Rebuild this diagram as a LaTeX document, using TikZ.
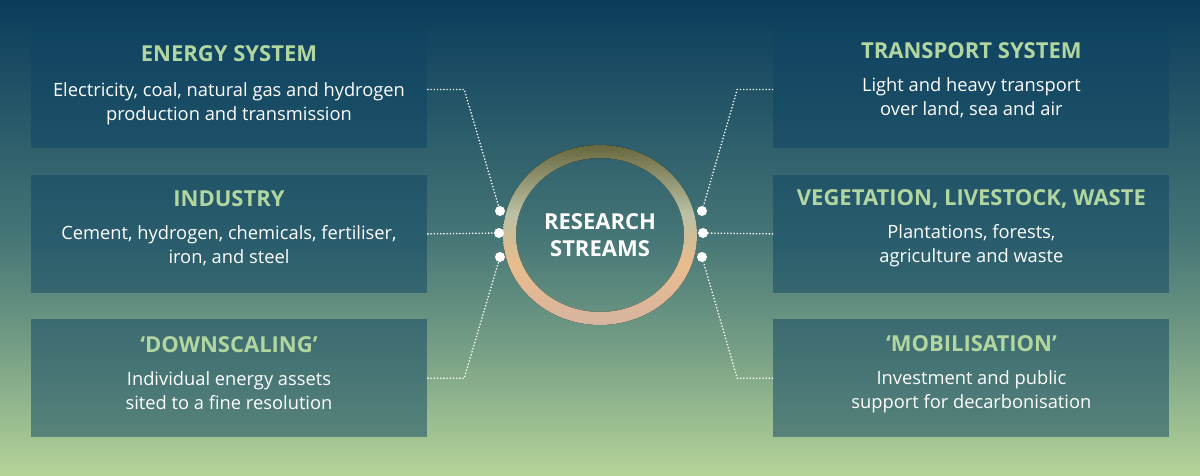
\documentclass[tikz,border=0pt]{standalone}
\usepackage{fontspec}
\setmainfont{Open Sans}
\usetikzlibrary{positioning}

\definecolor{skytop}{RGB}{10,60,92}
\definecolor{skymid}{RGB}{70,118,118}
\definecolor{skylow}{RGB}{120,160,134}
\definecolor{skybot}{RGB}{182,212,152}
\definecolor{boxteal}{RGB}{14,68,99}
\definecolor{headgreen}{RGB}{178,214,160}
\definecolor{ringtan}{RGB}{214,180,160}
\definecolor{ringorange}{RGB}{232,188,140}
\definecolor{ringsage}{RGB}{186,192,164}
\definecolor{ringolive}{RGB}{104,104,62}

\pgfdeclareverticalshading{skyshade}{100bp}{color(0bp)=(skybot); color(25bp)=(skybot);
  color(38bp)=(skylow); color(50bp)=(skymid); color(75bp)=(skytop); color(100bp)=(skytop)}
\pgfdeclareverticalshading{ringshade}{100bp}{color(0bp)=(ringtan); color(25bp)=(ringtan);
  color(42bp)=(ringorange); color(56bp)=(ringsage); color(75bp)=(ringolive); color(100bp)=(ringolive)}

\begin{document}
\begin{tikzpicture}[
  x=1pt, y=-1pt,
  box/.style={fill=boxteal, fill opacity=0.5, inner sep=0pt, minimum width=396pt, minimum height=118pt},
  head/.style={text=headgreen, font=\fontsize{22}{26}\selectfont\bfseries, anchor=base, inner sep=0pt},
  body/.style={text=white, font=\fontsize{18.3}{24}\selectfont, align=center, anchor=base, inner sep=0pt},
  dot/.style={circle, fill=white, inner sep=0pt, minimum size=10pt},
  link/.style={white, line width=1.3pt, dash pattern=on 1.3pt off 1.9pt}
]

% background
\useasboundingbox (0,0) rectangle (1200,476);
\shade[shading=skyshade] (0,0) rectangle (1200,476);

% left column
\node[box] (energy) at (229,89.5) {};
\node[box, below=26pt of energy] (industry) {};
\node[box, below=26pt of industry] (downscale) {};

% right column
\node[box, right=346pt of energy] (transport) {};
\node[box, right=346pt of industry] (vegetation) {};
\node[box, right=346pt of downscale] (mobilise) {};

% headings and text (body base = last line)
\node[head] (energyhead) at ([yshift=-31pt]energy.north) {ENERGY SYSTEM};
\node[body] (energytext) at ([yshift=-90pt]energy.north) {Electricity, coal, natural gas and hydrogen\\production and transmission};
\node[head] (industryhead) at ([yshift=-32pt]industry.north) {INDUSTRY};
\node[body] (industrytext) at ([yshift=-89pt]industry.north) {Cement, hydrogen, chemicals, fertiliser,\\iron, and steel};
\node[head] (downscalehead) at ([yshift=-33pt]downscale.north) {‘DOWNSCALING’};
\node[body] (downscaletext) at ([yshift=-90pt]downscale.north) {Individual energy assets\\sited to a fine resolution};
\node[head] (transporthead) at ([yshift=-28pt]transport.north) {TRANSPORT SYSTEM};
\node[body] (transporttext) at ([yshift=-85pt]transport.north) {Light and heavy transport\\over land, sea and air};
\node[head] (vegetationhead) at ([yshift=-31pt]vegetation.north) {VEGETATION, LIVESTOCK, WASTE};
\node[body] (vegetationtext) at ([yshift=-88pt]vegetation.north) {Plantations, forests,\\agriculture and waste};
\node[head] (mobilisehead) at ([yshift=-32pt]mobilise.north) {‘MOBILISATION’};
\node[body] (mobilisetext) at ([yshift=-89pt]mobilise.north) {Investment and public\\support for decarbonisation};

% centre ring
\fill[shading=ringshade, even odd rule] (600,235) ellipse (97 and 90) (600,235) ellipse (84 and 77);
\node[text=white, font=\fontsize{22}{27}\selectfont\bfseries, align=center] (hub) at (600,235) {RESEARCH\\STREAMS};

% dots on the ring
\node[dot] (l1) at (500,211) {};
\node[dot] (l2) at (499,233) {};
\node[dot] (l3) at (500,257) {};
\node[dot] (r1) at (702,211) {};
\node[dot] (r2) at (703,233) {};
\node[dot] (r3) at (702,257) {};

% connectors
\draw[link] (energy.east) -- ++(37,0) -- (l1);
\draw[link] (industry.east) -- (l2);
\draw[link] (downscale.east) -- ++(37,0) -- (l3);
\draw[link] (transport.west) -- ++(-36,0) -- (r1);
\draw[link] (vegetation.west) -- (r2);
\draw[link] (mobilise.west) -- ++(-36,0) -- (r3);

\end{tikzpicture}
\end{document}
